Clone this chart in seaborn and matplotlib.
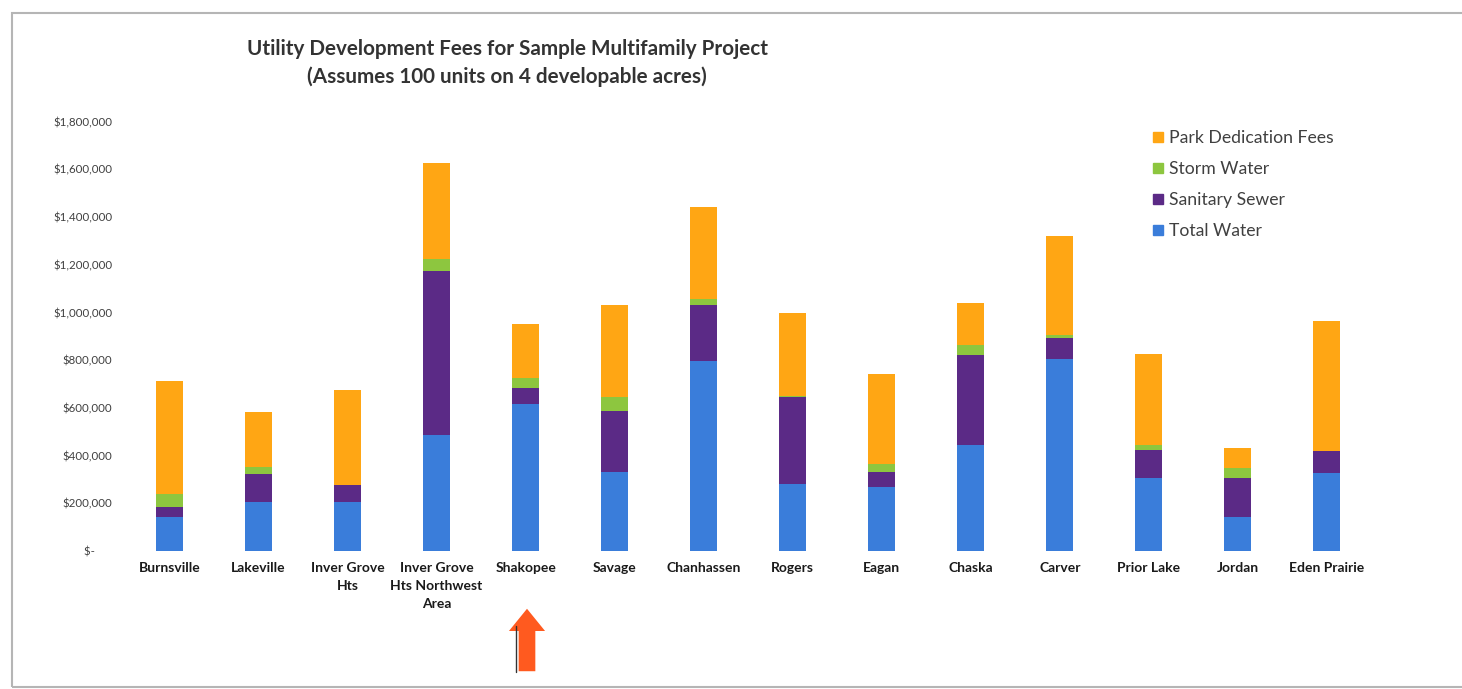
import numpy as np
import pandas as pd
import matplotlib
matplotlib.use("Agg")
import matplotlib.pyplot as plt
import seaborn as sns
from matplotlib.lines import Line2D
from matplotlib.patches import Rectangle

# Data (dollars)
cities = ["Burnsville", "Lakeville", "Inver Grove\nHts", "Inver Grove\nHts Northwest\nArea",
          "Shakopee", "Savage", "Chanhassen", "Rogers", "Eagan", "Chaska", "Carver",
          "Prior Lake", "Jordan", "Eden Prairie"]
total_water = [142000, 205000, 206000, 488000, 618000, 332000, 795000, 280000, 269000, 446000,
               806000, 305000, 141000, 328000]
sanitary_sewer = [42000, 116000, 70000, 688000, 66000, 255000, 236000, 366000, 63000, 374000,
                  86000, 118000, 167000, 92000]
storm_water = [53000, 31000, 2000, 49000, 42000, 59000, 25000, 4000, 32000, 42000,
               14000, 20000, 39000, 0]
park_fees = [474000, 230000, 399000, 402000, 227000, 385000, 385000, 349000, 379000, 177000,
             415000, 381000, 84000, 544000]

yticks = [0, 200000, 400000, 600000, 800000, 1000000, 1200000, 1400000, 1600000, 1800000]
ytick_labels = ["$-      ", "$200,000", "$400,000", "$600,000", "$800,000", "$1,000,000",
                "$1,200,000", "$1,400,000", "$1,600,000", "$1,800,000"]

colors = {"Total Water": "#3A7DDA", "Sanitary Sewer": "#5B2A86",
          "Storm Water": "#8DC63F", "Park Dedication Fees": "#FFA614"}

df = pd.DataFrame({"city": cities, "Total Water": total_water, "Sanitary Sewer": sanitary_sewer,
                   "Storm Water": storm_water, "Park Dedication Fees": park_fees})
order = ["Total Water", "Sanitary Sewer", "Storm Water", "Park Dedication Fees"]
cum = df[order].cumsum(axis=1)

sns.set_style("white")
plt.rcParams["font.family"] = ["Lato", "DejaVu Sans"]

fig = plt.figure(figsize=(14.62, 6.89), dpi=100)
ax = fig.add_axes([0.0855, 0.2003, 0.8525, 0.6231])

# stacked bars: draw cumulative totals from the top layer down
for name in reversed(order):
    sns.barplot(x=df["city"], y=cum[name], color=colors[name], width=0.3,
                saturation=1, linewidth=0, ax=ax, zorder=2)

ax.set_ylim(0, 1800000)
ax.set_xlim(-0.5, 13.5)
ax.set_yticks(yticks)
ax.set_yticklabels(ytick_labels, fontsize=8.3, color="#404040")
ax.set_xticks(range(len(cities)))
ax.set_xticklabels(cities, fontsize=10, fontweight="bold", color="#1a1a1a", linespacing=1.6)
ax.tick_params(axis="both", length=0)
ax.tick_params(axis="x", pad=8)
ax.tick_params(axis="y", pad=9)
ax.set_xlabel("")
ax.set_ylabel("")
sns.despine(ax=ax, left=True, bottom=True)

handles = [Line2D([0], [0], marker="s", linestyle="", markersize=7, color=colors[n])
           for n in reversed(order)]
fig.legend(handles, list(reversed(order)), loc="upper left", bbox_to_anchor=(0.775, 0.834),
           frameon=False, fontsize=12.7, labelcolor="#404040", handletextpad=0.15,
           labelspacing=0.85, handlelength=1.0)

fig.text(0.347, 0.909, "Utility Development Fees for Sample Multifamily Project\n"
         "(Assumes 100 units on 4 developable acres)", ha="center", va="center",
         fontsize=14.9, fontweight="bold", color="#333333", linespacing=1.45)

# orange arrow pointing at Shakopee
ax.annotate("", xy=(527, 689 - 606), xytext=(527, 689 - 674), xycoords="figure pixels",
            arrowprops=dict(arrowstyle="simple,head_width=2.6,head_length=1.6,tail_width=1.2",
                            mutation_scale=10, color="#FF5A1F", lw=0))
fig.add_artist(Line2D([516 / 1462, 516 / 1462], [1 - 672 / 689, 1 - 626 / 689],
                      transform=fig.transFigure, color="#333333", lw=1))

# scan frame
fig.add_artist(Rectangle((12 / 1462, 2 / 689), 1.2, 1 - 15 / 689, transform=fig.transFigure,
                         fill=False, edgecolor="#b5b5b5", lw=1.5))

fig.savefig("out.png", dpi=100)
